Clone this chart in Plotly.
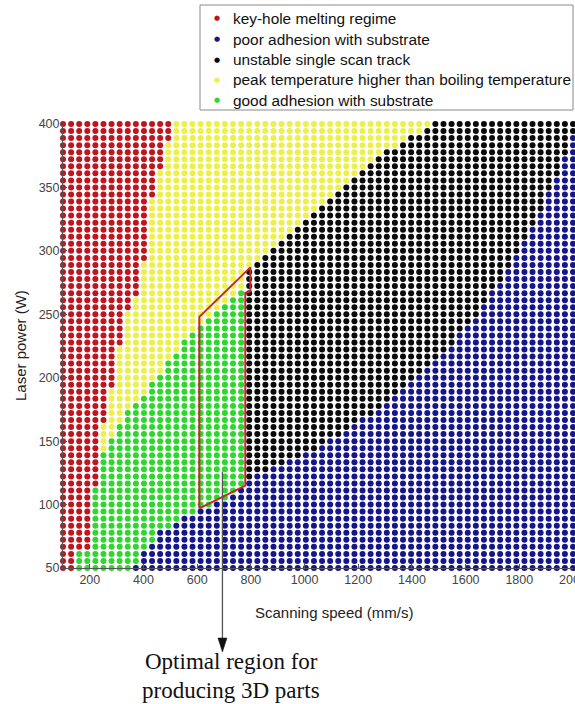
import numpy as np
import plotly.graph_objects as go

# ---------------- data ----------------
SPEED_MIN, SPEED_MAX, N_SPEED = 100, 2000, 64      # scanning speed grid (mm/s)
POWER_MIN, POWER_MAX, N_POWER = 50, 400, 64        # laser power grid (W)

REGIME_NAMES = [
    "key-hole melting regime",
    "poor adhesion with substrate",
    "unstable single scan track",
    "peak temperature higher than boiling temperature",
    "good adhesion with substrate",
]
REGIME_COLORS = ["#c0141e", "#15158c", "#0a0a0a", "#eef04a", "#2ed62e"]

# key-hole regime: for power >= KEYHOLE_POWER_FROM[i], speeds <= KEYHOLE_MAX_SPEED[i] are key-hole
KEYHOLE_POWER_FROM = [50, 64, 112, 165, 192, 225, 255, 263, 289, 344, 365, 388]
KEYHOLE_MAX_SPEED = [140, 200, 230, 260, 290, 320, 350, 380, 410, 440, 470, 500]

# boundary between good adhesion (below) and boiling temperature (above)
BOILING_SPEED = [251, 340, 463, 590, 780]
BOILING_POWER = [140, 172, 205, 240, 275]

# boundary between unstable track (below) and boiling temperature (above)
UNSTABLE_SPEED = [790, 1020, 1320, 1500]
UNSTABLE_POWER = [287, 328, 381, 402]

GOOD_MAX_SPEED = 780   # good adhesion / unstable track limit

# poor adhesion: speeds >= ADHESION_SPEED at ADHESION_POWER
ADHESION_POWER = [50, 77, 93, 109, 119, 135, 146, 172, 198, 224, 251, 280, 303, 330, 366, 383, 389, 400]
ADHESION_SPEED = [355, 452, 586, 750, 786, 958, 1058, 1255, 1405, 1542, 1642, 1740, 1802, 1877, 1951, 1985, 2000, 2015]

# optimal region outline
REGION_SPEED = [608, 608, 798, 798, 779, 779, 608]
REGION_POWER = [97, 248, 287, 268, 267, 115, 97]

ARROW_SPEED = 694
ARROW_TAIL_POWER = 126

X_TICKS = [200, 400, 600, 800, 1000, 1200, 1400, 1600, 1800, 2000]
Y_TICKS = [50, 100, 150, 200, 250, 300, 350, 400]

# ---------------- classification ----------------
speeds = np.linspace(SPEED_MIN, SPEED_MAX, N_SPEED)
powers = np.linspace(POWER_MIN, POWER_MAX, N_POWER)


def regime(v, p):
    i = np.searchsorted(KEYHOLE_POWER_FROM, p + 1e-9, side="right") - 1
    if v <= KEYHOLE_MAX_SPEED[i]:
        return 0
    if v >= np.interp(p, ADHESION_POWER, ADHESION_SPEED) - 1e-6:
        return 1
    if v < GOOD_MAX_SPEED:
        return 4 if p < np.interp(v, BOILING_SPEED, BOILING_POWER) else 3
    return 2 if p < np.interp(v, UNSTABLE_SPEED, UNSTABLE_POWER) else 3


pts = {k: ([], []) for k in range(5)}
for p in powers:
    for v in speeds:
        k = regime(v, p)
        pts[k][0].append(v)
        pts[k][1].append(p)

fig = go.Figure()
for k in range(5):
    fig.add_trace(go.Scatter(
        x=pts[k][0], y=pts[k][1], mode="markers", name=REGIME_NAMES[k],
        marker=dict(color=REGIME_COLORS[k], size=6, line=dict(width=0)),
        cliponaxis=False, showlegend=False,
    ))

fig.add_trace(go.Scatter(
    x=REGION_SPEED, y=REGION_POWER, mode="lines", showlegend=False,
    line=dict(color="#c8282d", width=2), cliponaxis=False,
))

# ---------------- layout ----------------
W, H = 575, 704
ML, MR, MT, MB = 63, 2, 124, 136
PW, PH = W - ML - MR, H - MT - MB


def px_to_paper_x(px):
    return (px - ML) / PW


def px_to_paper_y(py):
    return (H - MB - py) / PH


arrow_x = (ARROW_SPEED - SPEED_MIN) / (SPEED_MAX - SPEED_MIN)
arrow_tail_y = (ARROW_TAIL_POWER - POWER_MIN) / (POWER_MAX - POWER_MIN)
arrow_tip_y = px_to_paper_y(652)
arrow_base_y = px_to_paper_y(639)

font_sans = "Liberation Sans, Arial, sans-serif"
font_serif = "Liberation Serif, Times New Roman, serif"

annotations = [
    dict(text="Scanning speed (mm/s)", x=px_to_paper_x(334), y=px_to_paper_y(612),
         xref="paper", yref="paper", showarrow=False, xanchor="center", yanchor="middle",
         font=dict(family=font_sans, size=15, color="#222")),
    dict(text="Laser power (W)", x=px_to_paper_x(20), y=0.5, textangle=-90,
         xref="paper", yref="paper", showarrow=False, xanchor="center", yanchor="middle",
         font=dict(family=font_sans, size=15, color="#222")),
    dict(text="Optimal region for", x=px_to_paper_x(231), y=px_to_paper_y(661),
         xref="paper", yref="paper", showarrow=False, xanchor="center", yanchor="middle",
         font=dict(family=font_serif, size=23, color="#111")),
    dict(text="producing 3D parts", x=px_to_paper_x(231), y=px_to_paper_y(690),
         xref="paper", yref="paper", showarrow=False, xanchor="center", yanchor="middle",
         font=dict(family=font_serif, size=23, color="#111")),
]

# legend (drawn as a box with text entries)
LEG_ROWS = [18, 39, 59.5, 80, 100.5]
for k in range(5):
    annotations.append(dict(
        text="\u25cf", x=px_to_paper_x(217), y=px_to_paper_y(LEG_ROWS[k]),
        xref="paper", yref="paper", showarrow=False, xanchor="center", yanchor="middle",
        font=dict(family="DejaVu Sans", size=7, color=REGIME_COLORS[k])))
    annotations.append(dict(
        text=REGIME_NAMES[k], x=px_to_paper_x(231), y=px_to_paper_y(LEG_ROWS[k]),
        xref="paper", yref="paper", showarrow=False, xanchor="left", yanchor="middle",
        font=dict(family=font_sans, size=15.4, color="#111")))

shapes = [
    dict(type="rect", xref="paper", yref="paper", layer="below",
         x0=px_to_paper_x(200), x1=px_to_paper_x(573), y0=px_to_paper_y(110), y1=px_to_paper_y(5),
         line=dict(color="#8a8a8a", width=1), fillcolor="white"),
    dict(type="line", xref="paper", yref="paper", x0=arrow_x, x1=arrow_x,
         y0=arrow_tail_y, y1=arrow_base_y, line=dict(color="#555", width=1.3)),
    dict(type="path", xref="paper", yref="paper", xsizemode="pixel", ysizemode="pixel",
         xanchor=arrow_x, yanchor=arrow_tip_y, path="M0,0 L-4.5,14 L4.5,14 Z",
         fillcolor="#111", line=dict(color="#111", width=0.5)),
]

fig.update_layout(
    width=W, height=H, autosize=False,
    margin=dict(l=ML, r=MR, t=MT, b=MB, pad=0, autoexpand=False),
    paper_bgcolor="white", plot_bgcolor="white",
    font=dict(family=font_sans, color="#333"),
    showlegend=False,
    xaxis=dict(
        range=[SPEED_MIN, SPEED_MAX], tickvals=X_TICKS, ticktext=[str(t) for t in X_TICKS],
        ticks="inside", ticklen=4, tickcolor="#555", showline=True, linecolor="#555",
        linewidth=1, showgrid=False, zeroline=False, automargin=False,
        tickfont=dict(size=12.5, color="#444"), ticklabeloverflow="allow",
    ),
    yaxis=dict(
        range=[POWER_MIN, POWER_MAX], tickvals=Y_TICKS, ticktext=[str(t) for t in Y_TICKS],
        ticks="inside", ticklen=4, tickcolor="#555", showline=True, linecolor="#555",
        linewidth=1, showgrid=False, zeroline=False, automargin=False,
        tickfont=dict(size=12.5, color="#444"),
    ),
    annotations=annotations,
    shapes=shapes,
)

fig.write_html(
    "out.html",
    config={"responsive": False, "displayModeBar": False},
    post_script="document.body.style.margin='0';document.body.style.overflow='hidden';",
)
